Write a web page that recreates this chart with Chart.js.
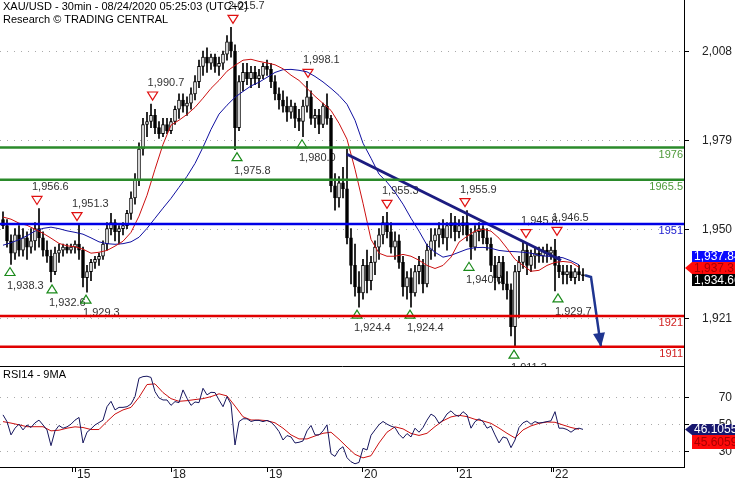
<!DOCTYPE html>
<html lang="en">
<head>
  <meta charset="UTF-8">
  <title>XAU/USD 30min</title>
  <script src="https://cdn.jsdelivr.net/npm/chart.js"></script>
  <style>
    body { margin: 0; background: #fff; }
    #wrap { position: relative; width: 735px; height: 480px; overflow: hidden; }
    #priceChart { position: absolute; left: 0; top: 0; }
    #rsiChart { position: absolute; left: 0; top: 366px; }
  </style>
</head>
<body>
<div id="wrap">
  <canvas id="priceChart" width="735" height="366"></canvas>
  <canvas id="rsiChart" width="735" height="114"></canvas>
</div>
<script>
// hourly candles
const opens = [1953,1951,1946,1942,1948,1943,1947,1944,1946,1950,
  1947,1943,1941,1936,1942,1943,1944,1943,1944,1945,
  1943,1934,1936,1939,1940,1941,1945,1950,1952,1949,
  1950,1951,1955,1960,1966,1976,1984,1985,1987,1983,
  1981,1984,1982,1985,1989,1992,1990,1991,1994,1998,
  2003,2006,2004,2006,2003,2004,2007,2011,2008,1983,
  1998,2001,1999,2001,1999,2000,2003,2002,1998,1994,
  1992,1990,1988,1990,1986,1985,1990,1993,1986,1987,
  1984,1990,1986,1964,1960,1965,1963,1947,1938,1931,
  1929,1938,1933,1939,1944,1948,1952,1949,1944,1946,
  1939,1931,1934,1929,1936,1938,1932,1943,1946,1948,
  1950,1947,1951,1952,1949,1951,1952,1948,1944,1949,
  1950,1947,1945,1938,1934,1939,1932,1930,1918,1936,
  1939,1943,1938,1941,1942,1941,1943,1942,1943,1938,
  1936,1935,1936,1934,1936,1935];
const highs = [1955.5,1953,1948,1950,1951,1950,1949,1950,1952,1956.6,
  1949,1946,1943,1944,1945,1945,1945,1945,1946,1951.3,
  1944,1938,1940,1941,1942,1946,1952,1955,1953,1951,
  1952,1956,1962,1968,1978,1986,1988,1990.7,1989,1985,
  1986,1986,1986,1990,1994,1994,1993,1996,2000,2005,
  2008,2009,2007,2007,2006,2008,2013,2015.7,2010,2000,
  2004,2004,2003,2003,2002,2004,2005,2004,2000,1996,
  1995,1993,1992,1991,1989,1992,1998.1,1995,1989,1989,
  1991,1994,1987,1968,1967,1970,1976,1950,1945,1936,
  1940,1943,1941,1946,1950,1954,1955.3,1952,1949,1948,
  1941,1936,1937,1938,1941,1940,1945,1950,1950,1952,
  1953,1952,1955,1954,1953,1954,1955.9,1950,1951,1952,
  1951,1950,1947,1941,1941,1941,1936,1932,1938,1941,
  1945.8,1945,1943,1944,1944,1944,1945,1944,1946.5,1941,
  1938,1938,1938,1937,1938,1937];
const lows = [1950,1944,1938.3,1940,1941,1941,1940,1942,1943,1944,
  1941,1939,1932.6,1935,1939,1941,1942,1942,1942,1940,
  1931,1929.3,1933,1937,1938,1940,1943,1948,1946,1945,
  1948,1950,1953,1958,1964,1974,1980,1983,1981,1979.5,
  1980,1981,1981,1984,1986,1988,1987,1989,1992,1996,
  2000,2001,2002,2001,2000,2002,2005,2006,1975.8,1982,
  1995,1997,1996,1997,1996,1999,2000,1996,1992,1989,
  1988,1985,1986,1983,1982,1980,1988,1984,1983,1981,
  1983,1984,1962,1956,1957,1960,1945,1932,1928,1924.4,
  1927,1929,1930,1935,1940,1945,1947,1942,1940,1937,
  1928,1927,1924.4,1928,1932,1929,1931,1940,1941,1944,
  1945,1943,1947,1946,1947,1948,1946,1940,1943,1946,
  1945,1943,1936,1930,1932,1930,1927,1915,1911.3,1921,
  1937,1935,1936,1937,1939,1939,1939,1940,1929.7,1934,
  1932,1932,1933,1932,1933,1933];
const closes = [1951,1946,1942,1948,1943,1947,1944,1946,1950,1947,
  1943,1941,1936,1942,1943,1944,1943,1944,1945,1943,
  1934,1936,1939,1940,1941,1945,1950,1952,1949,1950,
  1951,1955,1960,1966,1976,1984,1985,1987,1983,1981,
  1984,1982,1985,1989,1992,1990,1991,1994,1998,2003,
  2006,2004,2006,2003,2004,2007,2011,2008,1983,1998,
  2001,1999,2001,1999,2000,2003,2002,1998,1994,1992,
  1990,1988,1990,1986,1985,1990,1993,1986,1987,1984,
  1990,1986,1964,1960,1965,1963,1947,1938,1931,1929,
  1938,1933,1939,1944,1948,1952,1949,1944,1946,1939,
  1931,1934,1929,1936,1938,1932,1943,1946,1948,1950,
  1947,1951,1952,1949,1951,1952,1948,1944,1949,1950,
  1947,1945,1938,1934,1939,1932,1930,1918,1936,1939,
  1943,1938,1941,1942,1941,1943,1942,1943,1938,1936,
  1935,1936,1934,1936,1935,1934.66];

// moving averages, one reading every 2 candles
const maStep = 2;
const maFast = [1953.8,1953.1,1951.8,1951.1,1949.8,1948.5,1946.9,1945.2,1944.4,1944.1,
  1943.3,1942.0,1942.3,1942.9,1944.3,1945.9,1948.8,1954.1,1960.9,1969.4,
  1977.5,1983.8,1985.4,1987.3,1989.6,1992.6,1995.8,1998.4,2001.4,2003.3,
  2005.0,2005.3,2004.6,2004.1,2003.5,2002.2,2000.1,1998.4,1995.8,1993.2,
  1990.9,1988.6,1984.4,1979.2,1969.4,1958.3,1946.5,1942.0,1941.0,1941.0,
  1941.6,1941.0,1939.7,1938.0,1937.0,1938.0,1940.7,1945.6,1947.5,1949.2,
  1949.8,1949.2,1946.9,1943.6,1940.0,1938.0,1936.1,1936.4,1938.0,1939.0,
  1939.3,1939.0,1937.4];
const maSlow = [1944.6,1945.4,1946.4,1947.7,1949.2,1950.1,1950.5,1950.0,1949.3,1948.8,
  1948.2,1947.0,1945.7,1945.1,1944.9,1945.1,1945.7,1947.2,1950.1,1953.4,
  1956.7,1959.9,1963.5,1967.1,1971.3,1976.6,1982.4,1987.4,1990.3,1992.9,
  1994.8,1996.6,1997.8,1999.4,2001.0,2001.9,2002.0,2001.7,2001.2,1999.7,
  1997.9,1995.8,1993.5,1990.6,1985.4,1977.9,1973.0,1967.8,1965.2,1961.9,
  1958.0,1953.4,1949.2,1944.6,1942.3,1940.7,1941.3,1942.3,1943.3,1943.8,
  1943.9,1943.6,1942.9,1942.6,1942.5,1942.3,1942.0,1941.3,1941.0,1940.9,
  1940.5,1939.5,1938.2];

// RSI14 per candle and its 9MA every 2 candles
const rsi14 = [56.9,51.9,42,47,50,45.7,49.4,47.5,51,53,
  49.4,45.7,34,45,49,47,48,50,53,55,
  36,44,46.5,49.4,51.2,53,63,67,60.6,62.5,
  62.5,63,65,70.5,84.2,85.4,85.7,84.8,74.2,69.5,
  68,68,64,66.8,66,75.5,69.3,64,66.5,66,
  76.7,71.8,73.7,73.5,68,63,70.5,65,34.5,51.9,
  54,54,52,52.8,52.8,51.9,52.8,51.5,48.5,44.5,
  38.2,41.5,40.5,36,36.5,37.5,45,49,42,42,
  45,49.5,28,26,31,33.2,25,22,20.5,21.5,
  32,30.8,41.7,45.7,49.6,52,50,48.5,47.5,42.5,
  39.5,43,40.5,47,44,47.5,53,57.5,55.6,50.6,
  53,57.6,59.9,56.9,55.8,59.3,56.9,47,51.9,53.9,
  52,47,48.5,42,36,40.5,39.5,32.5,38.2,47.5,
  51,52.4,49.9,51.9,50.8,51.3,51.9,52.5,59.3,47,
  47,46,44,46.2,47,46.1];
const rsiMa9 = [51.9,50.8,49.5,48.1,48.1,48.1,45,45.5,47,48,
  47.5,46,46,52,57.5,60.6,62.5,70,79.5,80,
  73.5,69,67,67.5,68.3,69,70.5,72.6,71,63.5,
  55.5,53.1,53.1,52.6,51,47,42,39,39,41.2,
  43.2,44,38.8,33,27.5,24.9,26.5,36,44,48,
  46.5,43.1,41.6,43.2,48.2,52.5,55.4,56.6,55.6,53.6,
  52.4,50.6,47.1,43.2,39.7,45.7,48.7,50.6,51.6,51.4,
  49.4,47.5,46.2];

// analysis overlay
const levelValues = [1976, 1965.5, 1951, 1921, 1911];
const levelLabels = ['1976', '1965.5', '1951', '1921', '1911'];
const levelColors = ['#2a8a2a', '#2a8a2a', '#0000e6', '#e00000', '#e00000'];
const levelTextColors = ['#4f9a3a', '#4f9a3a', '#2020d0', '#d02020', '#d02020'];
const trendIdx = [86, 139.5];
const trendVal = [1974.3, 1939.7];
const arrowIdx = [145.5, 147, 149.5];
const arrowVal = [1934.8, 1934.2, 1911.4];
const highMarkIdx = [8.5, 18.5, 37.4, 57.5, 76.25, 96, 115.5, 130.75, 138.5];
const highMarkVal = [1956.6, 1951.3, 1990.7, 2015.7, 1998.1, 1955.3, 1955.9, 1945.8, 1946.5];
const lowMarkIdx = [1.75, 12.25, 20.75, 58.5, 74.75, 88.5, 101.75, 116.5, 127.75, 138.75];
const lowMarkVal = [1938.3, 1932.6, 1929.3, 1975.8, 1980.0, 1924.4, 1924.4, 1940.0, 1911.3, 1929.7];

// axes
const priceTicks = [2008, 1979, 1950, 1921];
const rsiTicks = [70, 50, 30];
const dayLabels = ['15', '18', '19', '20', '21', '22'];
const dayTickIdx = [18, 41.9, 66, 89.75, 113.5, 137.5];
const gapTickIdx = [17.25, 137];

// last values shown in the boxes
const lastSlow = '1,937.84', lastFast = '1,937.31', lastClose = '1,934.66';
const lastFastVal = 1937.31;
const lastRsi = '46.1055', lastRsiMa = '45.6059';
const lastRsiVal = 46.1055;

const FONT = '"Liberation Sans", Arial, sans-serif';
const AXIS_X = 684;

function seg(ctx, x1, y1, x2, y2) {
  ctx.beginPath(); ctx.moveTo(x1, y1); ctx.lineTo(x2, y2); ctx.stroke();
}

function fmt1(v) {
  return v.toLocaleString('en-US', { minimumFractionDigits: 1, maximumFractionDigits: 1 });
}

function valueBox(ctx, top, h, bg, fg, text, arrow) {
  const left = 692;
  ctx.fillStyle = bg;
  ctx.beginPath();
  if (arrow) {
    ctx.moveTo(AXIS_X + 1, top + h / 2);
    ctx.lineTo(left, top);
  } else {
    ctx.moveTo(left, top);
  }
  ctx.lineTo(735, top);
  ctx.lineTo(735, top + h);
  ctx.lineTo(left, top + h);
  ctx.closePath();
  ctx.fill();
  ctx.fillStyle = fg;
  ctx.font = '12px ' + FONT;
  ctx.textAlign = 'left';
  ctx.textBaseline = 'middle';
  ctx.fillText(text, 694, top + h / 2 + 0.5);
}

function dottedRow(ctx, py, right) {
  ctx.save();
  ctx.strokeStyle = '#aaaaaa';
  ctx.lineWidth = 1;
  ctx.setLineDash([1, 6]);
  seg(ctx, 0, py, right, py);
  ctx.restore();
}

const priceDecor = {
  id: 'priceDecor',
  beforeDatasetsDraw(chart) {
    const { ctx, chartArea: a, scales: { x, y } } = chart;
    ctx.save();
    priceTicks.forEach(v => dottedRow(ctx, Math.round(y.getPixelForValue(v)) + 0.5, a.right));

    ctx.font = '11px ' + FONT;
    ctx.textAlign = 'left';
    ctx.textBaseline = 'middle';
    ctx.lineWidth = 1.2;
    highMarkIdx.forEach((idx, i) => {
      const px = x.getPixelForValue(idx), py = y.getPixelForValue(highMarkVal[i]);
      ctx.strokeStyle = '#e01010';
      ctx.beginPath();
      ctx.moveTo(px - 5, py - 12);
      ctx.lineTo(px + 5, py - 12);
      ctx.lineTo(px, py - 4);
      ctx.closePath();
      ctx.stroke();
      ctx.fillStyle = '#333';
      ctx.fillText(fmt1(highMarkVal[i]), px - 5, py - 21);
    });
    lowMarkIdx.forEach((idx, i) => {
      const px = x.getPixelForValue(idx), py = y.getPixelForValue(lowMarkVal[i]);
      ctx.strokeStyle = '#1a8a1a';
      ctx.beginPath();
      ctx.moveTo(px - 5, py + 11);
      ctx.lineTo(px + 5, py + 11);
      ctx.lineTo(px, py + 3);
      ctx.closePath();
      ctx.stroke();
      ctx.fillStyle = '#333';
      ctx.fillText(fmt1(lowMarkVal[i]), px - 3, py + 21);
    });

    ctx.fillStyle = '#000';
    ctx.fillText('XAU/USD - 30min - 08/24/2020 05:25:03 (UTC+2)', 3, 7);
    ctx.fillText('Research \u00a9 TRADING CENTRAL', 3, 20);
    ctx.restore();
  },
  afterDatasetsDraw(chart) {
    const { ctx, chartArea: a, scales: { x, y } } = chart;
    ctx.save();
    // support / resistance levels
    ctx.lineWidth = 2.5;
    levelValues.forEach((v, i) => {
      const py = y.getPixelForValue(v) - 1.5;
      ctx.strokeStyle = levelColors[i];
      seg(ctx, a.left, py, a.right, py);
      ctx.fillStyle = levelTextColors[i];
      ctx.font = '11px ' + FONT;
      ctx.textAlign = 'right';
      ctx.textBaseline = 'middle';
      ctx.fillText(levelLabels[i], a.right - 1, py + 7);
    });

    // arrow head
    const n = arrowIdx.length;
    const tx = x.getPixelForValue(arrowIdx[n - 1]), ty = y.getPixelForValue(arrowVal[n - 1]);
    const sx = x.getPixelForValue(arrowIdx[n - 2]), sy = y.getPixelForValue(arrowVal[n - 2]);
    const ang = Math.atan2(ty - sy, tx - sx);
    ctx.fillStyle = '#1f3590';
    ctx.beginPath();
    ctx.moveTo(tx, ty);
    ctx.lineTo(tx - 14 * Math.cos(ang) + 6 * Math.sin(ang), ty - 14 * Math.sin(ang) - 6 * Math.cos(ang));
    ctx.lineTo(tx - 14 * Math.cos(ang) - 6 * Math.sin(ang), ty - 14 * Math.sin(ang) + 6 * Math.cos(ang));
    ctx.closePath();
    ctx.fill();

    // right axis
    ctx.strokeStyle = '#000';
    ctx.lineWidth = 1;
    seg(ctx, AXIS_X + 0.5, 0, AXIS_X + 0.5, chart.height);
    ctx.font = '12px ' + FONT;
    ctx.fillStyle = '#222';
    ctx.textAlign = 'right';
    ctx.textBaseline = 'middle';
    priceTicks.forEach(v => {
      const py = Math.round(y.getPixelForValue(v)) + 0.5;
      seg(ctx, AXIS_X, py, AXIS_X + 5, py);
      ctx.fillText(v.toLocaleString('en-US'), 732, py);
    });

    const redMid = y.getPixelForValue(lastFastVal);
    const redTop = Math.round(redMid - 6);
    valueBox(ctx, redTop - 11, 11, '#0a0aff', '#ffffff', lastSlow, false);
    valueBox(ctx, redTop, 12, '#ff0a0a', '#a80000', lastFast, true);
    valueBox(ctx, redTop + 12, 12, '#000000', '#ffffff', lastClose, false);
    ctx.restore();
  }
};

const rsiDecor = {
  id: 'rsiDecor',
  beforeDatasetsDraw(chart) {
    const { ctx, chartArea: a, scales: { y } } = chart;
    rsiTicks.forEach(v => dottedRow(ctx, Math.round(y.getPixelForValue(v)) + 0.5, a.right));
  },
  afterDraw(chart) {
    const { ctx, chartArea: a, scales: { x, y } } = chart;
    ctx.save();
    ctx.strokeStyle = '#000';
    ctx.lineWidth = 1;
    seg(ctx, 0, 0.5, AXIS_X + 1, 0.5);
    seg(ctx, 0, a.bottom + 0.5, AXIS_X + 1, a.bottom + 0.5);
    seg(ctx, AXIS_X + 0.5, 0, AXIS_X + 0.5, a.bottom + 1);

    ctx.font = '11px ' + FONT;
    ctx.fillStyle = '#000';
    ctx.textAlign = 'left';
    ctx.textBaseline = 'middle';
    ctx.fillText('RSI14 - 9MA', 3, 9);

    // day ticks
    gapTickIdx.concat(dayTickIdx).forEach(idx => {
      const px = Math.round(x.getPixelForValue(idx)) + 0.5;
      seg(ctx, px, a.bottom, px, a.bottom + 5);
    });
    ctx.font = '12px ' + FONT;
    ctx.fillStyle = '#222';
    dayTickIdx.forEach((idx, i) => {
      ctx.fillText(dayLabels[i], x.getPixelForValue(idx) + 2, a.bottom + 8);
    });

    ctx.textAlign = 'right';
    rsiTicks.forEach(v => {
      const py = Math.round(y.getPixelForValue(v)) + 0.5;
      seg(ctx, AXIS_X, py, AXIS_X + 5, py);
      ctx.fillText(String(v), 732, py);
    });

    const mid = y.getPixelForValue(lastRsiVal);
    const top = Math.round(mid - 5.5);
    valueBox(ctx, top, 11, '#16166e', '#ffffff', lastRsi, true);
    valueBox(ctx, top + 11, 14, '#ff0a0a', '#a80000', lastRsiMa, false);
    ctx.restore();
  }
};

const baseOptions = {
  responsive: false,
  animation: false,
  devicePixelRatio: 1,
  events: [],
  plugins: { legend: { display: false }, tooltip: { enabled: false } }
};

new Chart(document.getElementById('priceChart'), {
  type: 'bar',
  data: {
    datasets: [
      {
        type: 'line', order: 0,
        data: trendIdx.map((v, i) => ({ x: v, y: trendVal[i] })),
        borderColor: '#1c1c80', borderWidth: 3, pointRadius: 0
      },
      {
        type: 'line', order: 0,
        data: arrowIdx.map((v, i) => ({ x: v, y: arrowVal[i] })),
        borderColor: '#1f3590', borderWidth: 2.5, pointRadius: 0
      },
      {
        type: 'line', order: 1,
        data: maFast.map((v, k) => ({ x: k * maStep, y: v })),
        borderColor: '#cc1010', borderWidth: 1, pointRadius: 0
      },
      {
        type: 'line', order: 1,
        data: maSlow.map((v, k) => ({ x: k * maStep, y: v })),
        borderColor: '#1010a0', borderWidth: 1, pointRadius: 0
      },
      {
        order: 2, grouped: false, barThickness: 3,
        data: opens.map((o, i) => ({ x: i, y: [o, closes[i]] })),
        backgroundColor: opens.map((o, i) => closes[i] >= o ? '#ffffff' : '#000000'),
        borderColor: '#000', borderWidth: 1, borderSkipped: false
      },
      {
        order: 3, grouped: false, barThickness: 1,
        data: lows.map((l, i) => ({ x: i, y: [l, highs[i]] })),
        backgroundColor: '#000'
      }
    ]
  },
  options: {
    ...baseOptions,
    layout: { padding: { left: 0, right: 51, top: 0, bottom: 0 } },
    scales: {
      x: { type: 'linear', display: false, offset: false, min: -0.75, max: 170.25 },
      y: { display: false, min: 1905.17, max: 2024.65 }
    }
  },
  plugins: [priceDecor]
});

new Chart(document.getElementById('rsiChart'), {
  type: 'line',
  data: {
    datasets: [
      {
        order: 0,
        data: rsi14.map((v, i) => ({ x: i, y: v })),
        borderColor: '#16165e', borderWidth: 1, pointRadius: 0
      },
      {
        order: 1,
        data: rsiMa9.map((v, k) => ({ x: k * maStep, y: v })),
        borderColor: '#cc1010', borderWidth: 1, pointRadius: 0
      }
    ]
  },
  options: {
    ...baseOptions,
    layout: { padding: { left: 0, right: 51, top: 0, bottom: 13 } },
    scales: {
      x: { type: 'linear', display: false, min: -0.75, max: 170.25 },
      y: { display: false, min: 18.1, max: 93.3 }
    }
  },
  plugins: [rsiDecor]
});
</script>
</body>
</html>
